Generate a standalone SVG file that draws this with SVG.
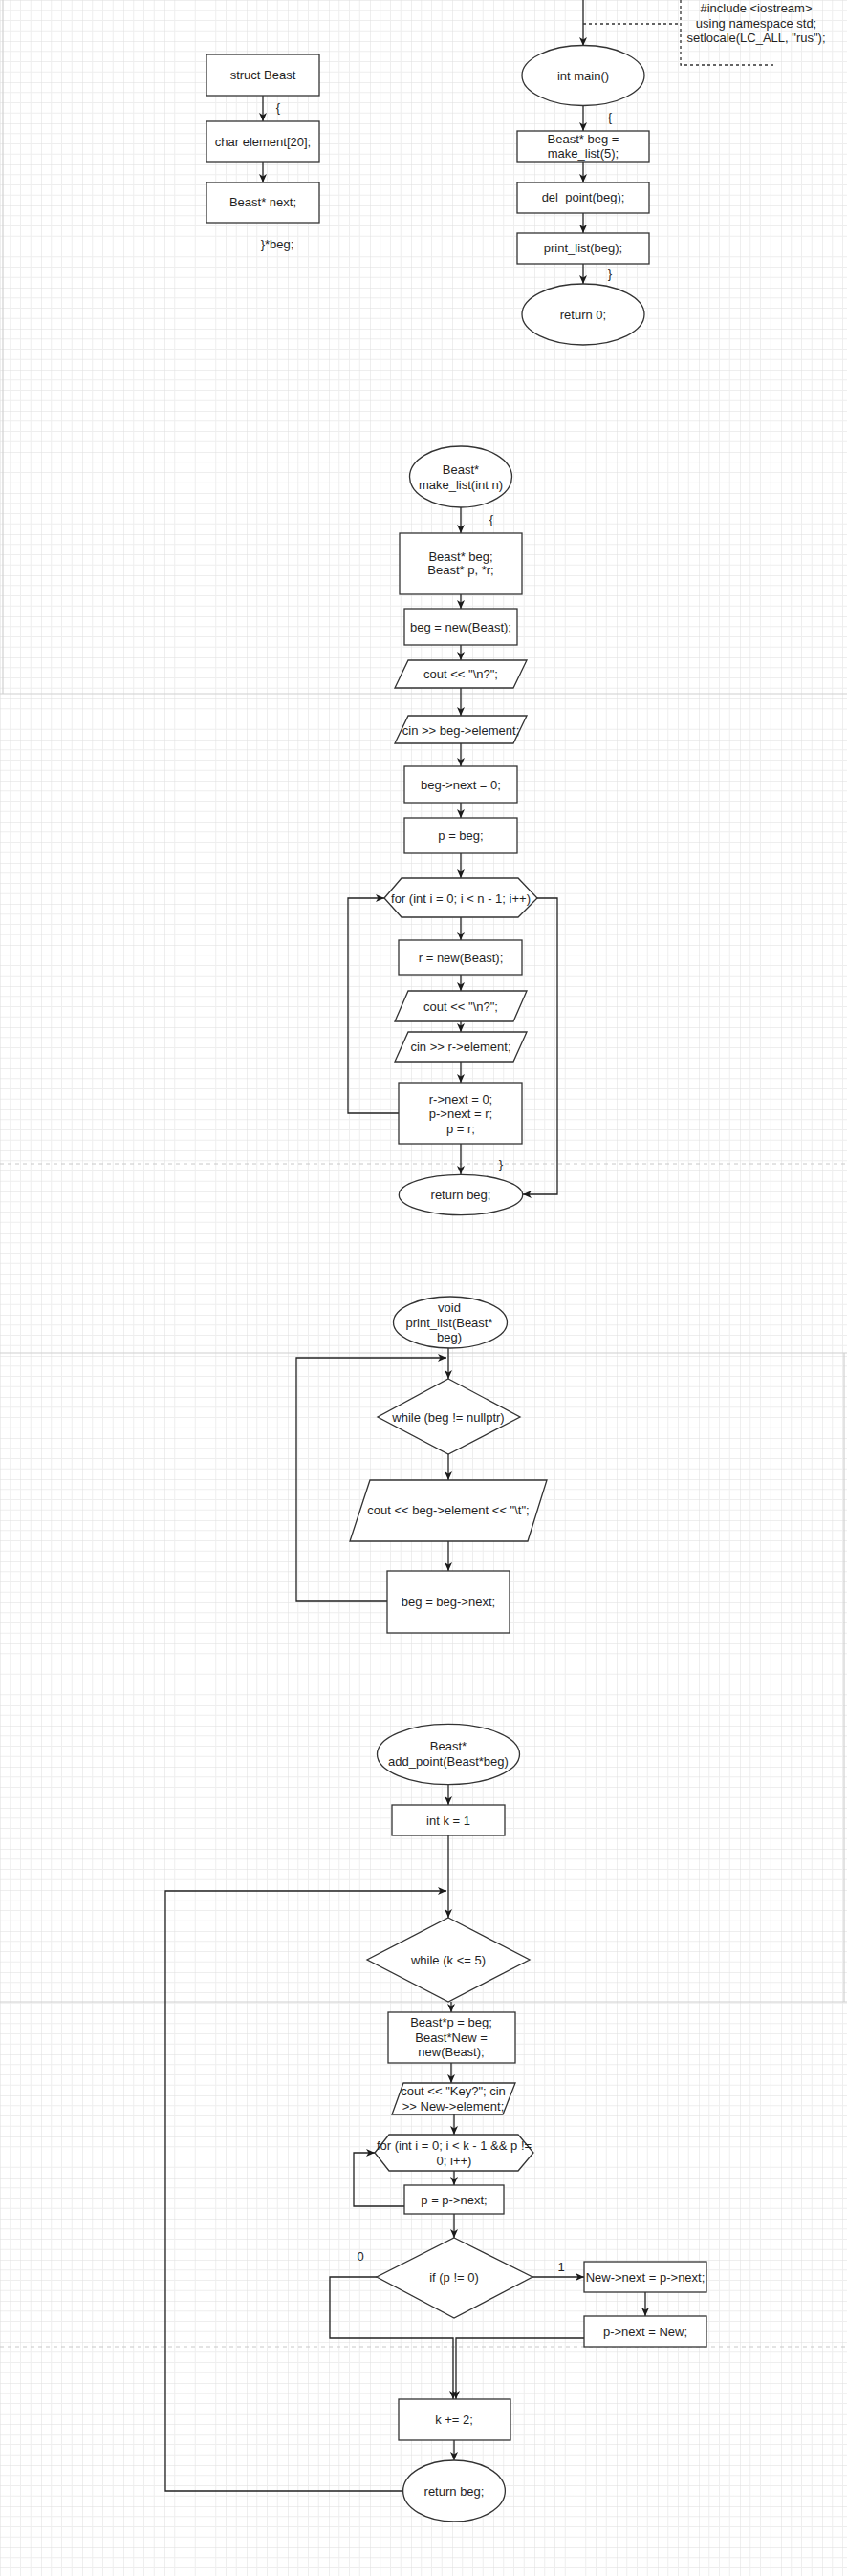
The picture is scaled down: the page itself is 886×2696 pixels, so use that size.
<svg xmlns="http://www.w3.org/2000/svg" width="886" height="2696" viewBox="0 0 886 2696">
<defs>
<pattern id="grid" width="43" height="43" patternUnits="userSpaceOnUse">
<path d="M10.75 0V43M21.5 0V43M32.25 0V43M0 10.75H43M0 21.5H43M0 32.25H43" stroke="#eeeeee" stroke-width="1" fill="none"/>
<path d="M0 0V43M0 0H43" stroke="#dedede" stroke-width="1" fill="none"/>
</pattern>
<marker id="arr" markerWidth="10" markerHeight="9" refX="9" refY="4" orient="auto" markerUnits="userSpaceOnUse">
<path d="M0,0 L9,4 L0,8 L2.5,4 z" fill="#1a1a1a"/>
</marker>
<style>
.s{fill:#fff;stroke:#333;stroke-width:1.3}
.c{fill:none;stroke:#222;stroke-width:1.3}
.ca{fill:none;stroke:#222;stroke-width:1.3;marker-end:url(#arr)}
.d{fill:none;stroke:#333;stroke-width:1.3;stroke-dasharray:3 3}
.seam{stroke:#d0d0d0;stroke-width:1.2}
.seamd{stroke:#c8c8c8;stroke-width:1;stroke-dasharray:4 4}
text{font-family:"Liberation Sans",Arial,sans-serif;font-size:13px;fill:#1f1f1f;text-anchor:middle}
</style>
</defs>
<rect width="886" height="2696" fill="#fff"/>
<rect width="886" height="2696" fill="url(#grid)"/>
<g id="seams">
<line class="seam" x1="0" y1="726" x2="886" y2="726"/>
<line class="seam" x1="0" y1="1416" x2="886" y2="1416"/>
<line class="seam" x1="0" y1="2095" x2="886" y2="2095"/>
<line class="seam" x1="3" y1="0" x2="3" y2="726"/>
<line class="seam" x1="883" y1="1416" x2="883" y2="2095"/>
<line class="seamd" x1="0" y1="1218" x2="886" y2="1218"/>
<line class="seamd" x1="0" y1="2456" x2="886" y2="2456"/>
</g>
<g id="connectors">
<line class="ca" x1="275" y1="100" x2="275" y2="127"/>
<line class="ca" x1="275" y1="170" x2="275" y2="191"/>
<line class="ca" x1="610" y1="0" x2="610" y2="48"/>
<polyline class="d" points="610,25 712,25"/>
<polyline class="d" points="712,0 712,68 810,68"/>
<line class="ca" x1="610" y1="111" x2="610" y2="137"/>
<line class="ca" x1="610" y1="170" x2="610" y2="191"/>
<line class="ca" x1="610" y1="223" x2="610" y2="244"/>
<line class="ca" x1="610" y1="276" x2="610" y2="297"/>
<line class="ca" x1="482" y1="531" x2="482" y2="558"/>
<line class="ca" x1="482" y1="622" x2="482" y2="637"/>
<line class="ca" x1="482" y1="675" x2="482" y2="691"/>
<line class="ca" x1="482" y1="720" x2="482" y2="749"/>
<line class="ca" x1="482" y1="778" x2="482" y2="802"/>
<line class="ca" x1="482" y1="840" x2="482" y2="856"/>
<line class="ca" x1="482" y1="893" x2="482" y2="919"/>
<line class="ca" x1="482" y1="960" x2="482" y2="984"/>
<line class="ca" x1="482" y1="1020" x2="482" y2="1037"/>
<line class="ca" x1="482" y1="1069" x2="482" y2="1080"/>
<line class="ca" x1="482" y1="1111" x2="482" y2="1133"/>
<line class="ca" x1="482" y1="1197" x2="482" y2="1229"/>
<polyline class="ca" points="417,1165 364,1165 364,940 402,940"/>
<polyline class="ca" points="562,940 583,940 583,1250 547,1250"/>
<line class="ca" x1="469" y1="1411" x2="469" y2="1443"/>
<polyline class="ca" points="405,1676 310,1676 310,1421 467,1421"/>
<line class="ca" x1="469" y1="1522" x2="469" y2="1549"/>
<line class="ca" x1="469" y1="1613" x2="469" y2="1644"/>
<line class="ca" x1="469" y1="1867" x2="469" y2="1889"/>
<line class="ca" x1="469" y1="1921" x2="469" y2="2007"/>
<polyline class="ca" points="422,2607 173,2607 173,1979 467,1979"/>
<line class="ca" x1="472" y1="2095" x2="472" y2="2106"/>
<line class="ca" x1="472" y1="2159" x2="472" y2="2180"/>
<line class="ca" x1="475" y1="2213" x2="475" y2="2234"/>
<line class="ca" x1="475" y1="2272" x2="475" y2="2287"/>
<polyline class="ca" points="423,2309 370,2309 370,2253 392,2253"/>
<line class="ca" x1="475" y1="2317" x2="475" y2="2342"/>
<line class="ca" x1="557" y1="2383" x2="611" y2="2383"/>
<line class="ca" x1="675" y1="2399" x2="675" y2="2424"/>
<polyline class="ca" points="394,2383 345,2383 345,2447 474,2447 474,2511"/>
<polyline class="ca" points="611,2447 477,2447 477,2511"/>
<line class="ca" x1="475" y1="2554" x2="475" y2="2575"/>
</g>
<g id="struct_labels">
<text x="291" y="117">{</text>
<text x="290" y="260">}*beg;</text>
</g>
<g id="n_struct"><rect class="s" x="216" y="57" width="118" height="43"/><text x="275" y="83">struct Beast</text></g>
<g id="n_char"><rect class="s" x="216" y="127" width="118" height="43"/><text x="275" y="153">char element[20];</text></g>
<g id="n_next"><rect class="s" x="216" y="191" width="118" height="42"/><text x="275" y="216">Beast* next;</text></g>
<g id="n_note">
<text x="791" y="13">#include &lt;iostream&gt;</text>
<text x="791" y="28.5">using namespace std;</text>
<text x="791" y="44">setlocale(LC_ALL, "rus");</text>
</g>
<g id="n_main"><ellipse class="s" cx="610" cy="79" rx="64" ry="31.5"/><text x="610" y="83.5">int main()</text></g>
<g id="main_labels"><text x="638" y="127">{</text><text x="638" y="291">}</text></g>
<g id="n_beg"><rect class="s" x="541" y="137" width="138" height="33"/><text x="610" y="150">Beast* beg =</text><text x="610" y="165">make_list(5);</text></g>
<g id="n_del"><rect class="s" x="541" y="191" width="138" height="32"/><text x="610" y="211">del_point(beg);</text></g>
<g id="n_print"><rect class="s" x="541" y="244" width="138" height="32"/><text x="610" y="264">print_list(beg);</text></g>
<g id="n_ret0"><ellipse class="s" cx="610" cy="329" rx="64" ry="32"/><text x="610" y="333.5">return 0;</text></g>

<g id="n_make"><ellipse class="s" cx="482" cy="499" rx="53.5" ry="32"/><text x="482" y="496">Beast*</text><text x="482" y="511.5">make_list(int n)</text></g>
<g id="make_labels"><text x="514" y="548">{</text><text x="524" y="1223">}</text></g>
<g id="n_decl"><rect class="s" x="418" y="558" width="128" height="64"/><text x="482" y="587">Beast* beg;</text><text x="482" y="601">Beast* p, *r;</text></g>
<g id="n_newbeg"><rect class="s" x="423" y="637" width="118" height="38"/><text x="482" y="660.5">beg = new(Beast);</text></g>
<g id="n_cout1"><polygon class="s" points="427,691 551,691 537,720 413,720"/><text x="482" y="710">cout &lt;&lt; "\n?";</text></g>
<g id="n_cin1"><polygon class="s" points="427,749 551,749 537,778 413,778"/><text x="482" y="768.5">cin &gt;&gt; beg-&gt;element;</text></g>
<g id="n_begnext"><rect class="s" x="423" y="802" width="118" height="38"/><text x="482" y="825.5">beg-&gt;next = 0;</text></g>
<g id="n_pbeg"><rect class="s" x="423" y="856" width="118" height="37"/><text x="482" y="878.5">p = beg;</text></g>
<g id="n_for1"><polygon class="s" points="402,940 420,919 542,919 562,940 542,960 420,960"/><text x="482" y="944.5">for (int i = 0; i &lt; n - 1; i++)</text></g>
<g id="n_rnew"><rect class="s" x="417" y="984" width="129" height="36"/><text x="482" y="1006.5">r = new(Beast);</text></g>
<g id="n_cout2"><polygon class="s" points="427,1037 551,1037 537,1069 413,1069"/><text x="482" y="1057.5">cout &lt;&lt; "\n?";</text></g>
<g id="n_cin2"><polygon class="s" points="427,1080 551,1080 537,1111 413,1111"/><text x="482" y="1099.5">cin &gt;&gt; r-&gt;element;</text></g>
<g id="n_rnext"><rect class="s" x="417" y="1133" width="129" height="64"/><text x="482" y="1155">r-&gt;next = 0;</text><text x="482" y="1170">p-&gt;next = r;</text><text x="482" y="1186">p = r;</text></g>
<g id="n_retbeg1"><ellipse class="s" cx="482" cy="1250.5" rx="64.7" ry="21.2"/><text x="482" y="1255">return beg;</text></g>

<g id="n_printlist"><ellipse class="s" cx="471" cy="1384" rx="59.5" ry="27"/><text x="470" y="1373">void</text><text x="470" y="1388.5">print_list(Beast*</text><text x="470" y="1404">beg)</text></g>
<g id="n_while1"><polygon class="s" points="469,1443 544,1483 469,1522 395,1483"/><text x="469" y="1487.5">while (beg != nullptr)</text></g>
<g id="n_cout3"><polygon class="s" points="387,1549 572,1549 552,1613 366,1613"/><text x="469" y="1585">cout &lt;&lt; beg-&gt;element &lt;&lt; "\t";</text></g>
<g id="n_begbeg"><rect class="s" x="405" y="1644" width="128" height="65"/><text x="469" y="1681">beg = beg-&gt;next;</text></g>

<g id="n_add"><ellipse class="s" cx="469" cy="1836" rx="74.5" ry="31.7"/><text x="469" y="1831.5">Beast*</text><text x="469" y="1847.5">add_point(Beast*beg)</text></g>
<g id="n_k1"><rect class="s" x="410" y="1889" width="118" height="32"/><text x="469" y="1909.5">int k = 1</text></g>
<g id="n_while2"><polygon class="s" points="469,2007 554,2051 469,2095 384,2051"/><text x="469" y="2055.5">while (k &lt;= 5)</text></g>
<g id="n_pnew"><rect class="s" x="406" y="2106" width="133" height="53"/><text x="472" y="2121">Beast*p = beg;</text><text x="472" y="2136.5">Beast*New =</text><text x="472" y="2152">new(Beast);</text></g>
<g id="n_cout4"><polygon class="s" points="422,2180 539,2180 526,2213 410,2213" /><text x="474" y="2193">cout &lt;&lt; "Key?"; cin</text><text x="474" y="2208.5">&gt;&gt; New-&gt;element;</text></g>
<g id="n_for2"><polygon class="s" points="392,2253 407,2234 542,2234 558,2253 542,2272 407,2272"/><text x="475" y="2250">for (int i = 0; i &lt; k - 1 &amp;&amp; p !=</text><text x="475" y="2265.5">0; i++)</text></g>
<g id="n_pnext"><rect class="s" x="423" y="2287" width="104" height="30"/><text x="475" y="2306.5">p = p-&gt;next;</text></g>
<g id="n_if"><polygon class="s" points="475,2342 557,2383 475,2426 394,2383"/><text x="475" y="2387.5">if (p != 0)</text></g>
<g id="if_labels"><text x="587" y="2376.5">1</text><text x="377" y="2365.5">0</text></g>
<g id="n_newnext"><rect class="s" x="611" y="2367" width="128" height="32"/><text x="675" y="2387.5">New-&gt;next = p-&gt;next;</text></g>
<g id="n_pnextnew"><rect class="s" x="611" y="2424" width="128" height="32"/><text x="675" y="2444.5">p-&gt;next = New;</text></g>
<g id="n_k2"><rect class="s" x="417" y="2511" width="117" height="43"/><text x="475" y="2537">k += 2;</text></g>
<g id="n_retbeg2"><ellipse class="s" cx="475" cy="2607" rx="53.4" ry="32"/><text x="475" y="2611.5">return beg;</text></g>
</svg>
